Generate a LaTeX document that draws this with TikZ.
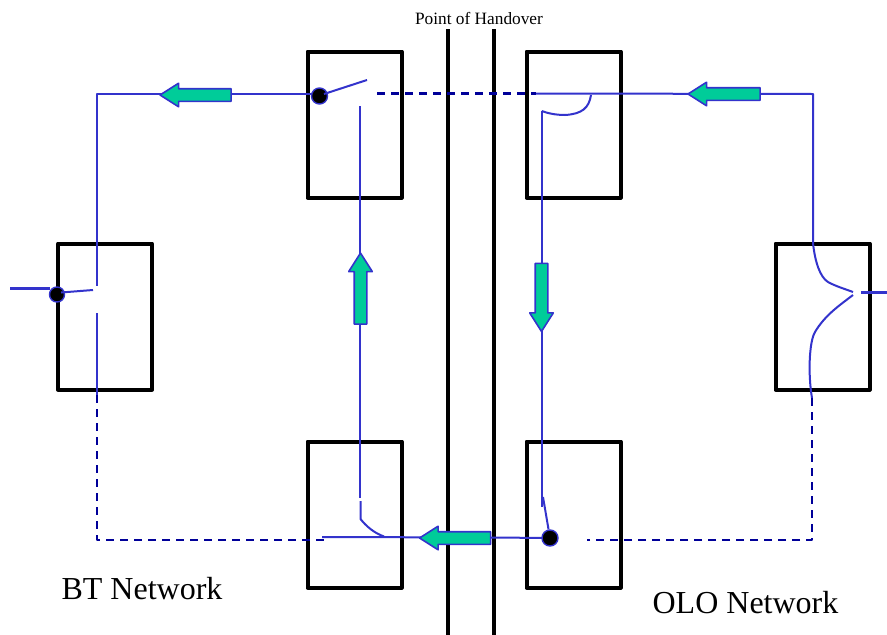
\documentclass[tikz,border=0pt]{standalone}
\usepackage{fontspec}
\setmainfont{Liberation Serif}
\usetikzlibrary{positioning,shapes.arrows}
\definecolor{linkblue}{HTML}{3333CC}
\definecolor{leasedblue}{HTML}{000099}
\definecolor{flowgreen}{HTML}{00CC99}
\tikzset{
site/.style={
    x=1pt,
    y=-1pt,
    line join=round
},
unit/.style={
    rectangle,
    draw=black,
    line width=4pt,
    minimum width=94pt,
    minimum height=146pt,
    inner sep=0pt
},
handover/.style={
    draw=black,
    line width=3.4pt
},
link/.style={
    draw=linkblue,
    line width=2pt
},
feed/.style={
    draw=linkblue,
    line width=3pt
},
spare/.style={
    draw=leasedblue,
    line width=2.6pt,
    dash pattern=on 8pt off 6pt
},
flow/.style={
    single arrow,
    draw=linkblue,
    fill=flowgreen,
    line width=1.6pt,
    inner xsep=0pt,
    inner ysep=5.5pt,
    single arrow head extend=5.5pt,
    single arrow tip angle=65
},
contact/.style={
    circle,
    draw=linkblue,
    fill=black,
    line width=1.4pt,
    minimum size=16pt,
    inner sep=0pt
},
caption/.style={
    inner sep=0pt
}}

\begin{document}
\begin{tikzpicture}[site]
\useasboundingbox (0,0) rectangle (887,635);

\node[unit]    (btt)                                      at (354.5,124.5) {};
\node[unit]    (olot)    [right of = btt, node distance=219pt]  {};
\node[unit]    (btb)     [below of = btt, node distance=390pt]  {};
\node[unit]    (olob)    [right of = btb, node distance=219pt]  {};
\node[unit]    (btl)                                      at (105,316.5) {};
\node[unit]    (olor)                                     at (822.5,316.5) {};

\coordinate (ha) at (448,29);
\coordinate (hb) at (448,635);
\coordinate (hc) at (494,29);
\coordinate (hd) at (494,635);
\path[handover] (ha) -- (hb);
\path[handover] (hc) -- (hd);

\node[caption] (poh) at (479,18) {\fontsize{17.3}{20}\selectfont Point of Handover};
\node[caption] (btnet) at (142,589) {\fontsize{32}{36}\selectfont BT Network};
\node[caption] (olonet) at (745.5,603) {\fontsize{32}{36}\selectfont OLO Network};

% contacts
\coordinate (c1) at (319.5,96);
\coordinate (c1b) at (324,94);
\coordinate (c2) at (57,294.5);
\coordinate (c2b) at (61,292.5);
\coordinate (c3) at (550,538);

% BT side
\coordinate (tl) at (97,94);
\coordinate (lup) at (97,286);
\coordinate (lblade) at (93,290);
\coordinate (llow) at (97,313);
\coordinate (lend) at (97,395);
\coordinate (bl) at (97,540);
\coordinate (bldash) at (325,540);
\coordinate (inl) at (10,288);
\coordinate (inr) at (50,288);
\coordinate (tblade) at (367,80);
\coordinate (tdash) at (377,93.5);
\coordinate (vtop) at (360,106);
\coordinate (vbot) at (360,498);
\coordinate (knee1) at (360.5,501);
\coordinate (knee2) at (360.5,519);
\coordinate (knee3) at (384,536.5);
\coordinate (bline) at (322,537);
\coordinate (bmid) at (491,537.5);

% OLO side
\coordinate (tdend) at (536,93.5);
\coordinate (tr) at (813,94);
\coordinate (curl) at (591,95);
\coordinate (vtop2) at (541.8,111);
\coordinate (vbot2) at (541.8,507);
\coordinate (bkink) at (543,497);
\coordinate (rtop) at (813,243);
\coordinate (rtipa) at (853,292);
\coordinate (rtipb) at (853,295);
\coordinate (rbot) at (812,398);
\coordinate (rdash) at (812,540);
\coordinate (rdashend) at (587,540);
\coordinate (outl) at (861,292);
\coordinate (outr) at (887,292);

\path[link] (c1b) -- (tl) -- (lup);
\path[link] (llow) -- (lend);
\path[feed] (inl) -- (inr);
\path[spare] (lend) -- (bl) -- (bldash);
\path[spare] (tdash) -- (tdend);
\path[link] (vtop) -- (vbot);
\draw[link] (knee1) -- (knee2) .. controls (366,526) and (374,533) .. (knee3);
\path[link] (bline) -- (bmid) -- (c3);

\path[link] (tdend) -- (tr) -- (rtop);
\draw[link] (curl) .. controls (589,108) and (582,114) .. (565,115) .. controls (555,115) and (547,113) .. (vtop2);
\path[link] (vtop2) -- (vbot2);
\draw[link] (rtop) .. controls (815,262) and (820,277) .. (828,282) .. controls (835,286) and (845,289) .. (rtipa);
\draw[link] (rtipb) .. controls (840,305) and (825,315) .. (815,332) .. controls (809,342) and (808,375) .. (rbot);
\path[spare] (rbot) -- (rdash) -- (rdashend);
\path[feed] (outl) -- (outr);

\node[contact] (k1) at (c1) {};
\node[contact, minimum size=15pt] (k2) at (c2) {};
\node[contact] (k3) at (c3) {};
\path[link] (c1b) -- (tblade);
\path[link] (c2b) -- (lblade);
\path[link] (k3) -- (bkink);

\node[flow, minimum height=71pt, rotate=180] (f1) at (200.5,95) {};
\node[flow, minimum height=72pt, rotate=180] (f2) at (729,94) {};
\node[flow, minimum height=71pt, rotate=90]  (f3) at (360.5,293.5) {};
\node[flow, minimum height=68pt, rotate=-90] (f4) at (541.5,292.5) {};
\node[flow, minimum height=71pt, rotate=180] (f5) at (460,538) {};
\end{tikzpicture}
\end{document}
